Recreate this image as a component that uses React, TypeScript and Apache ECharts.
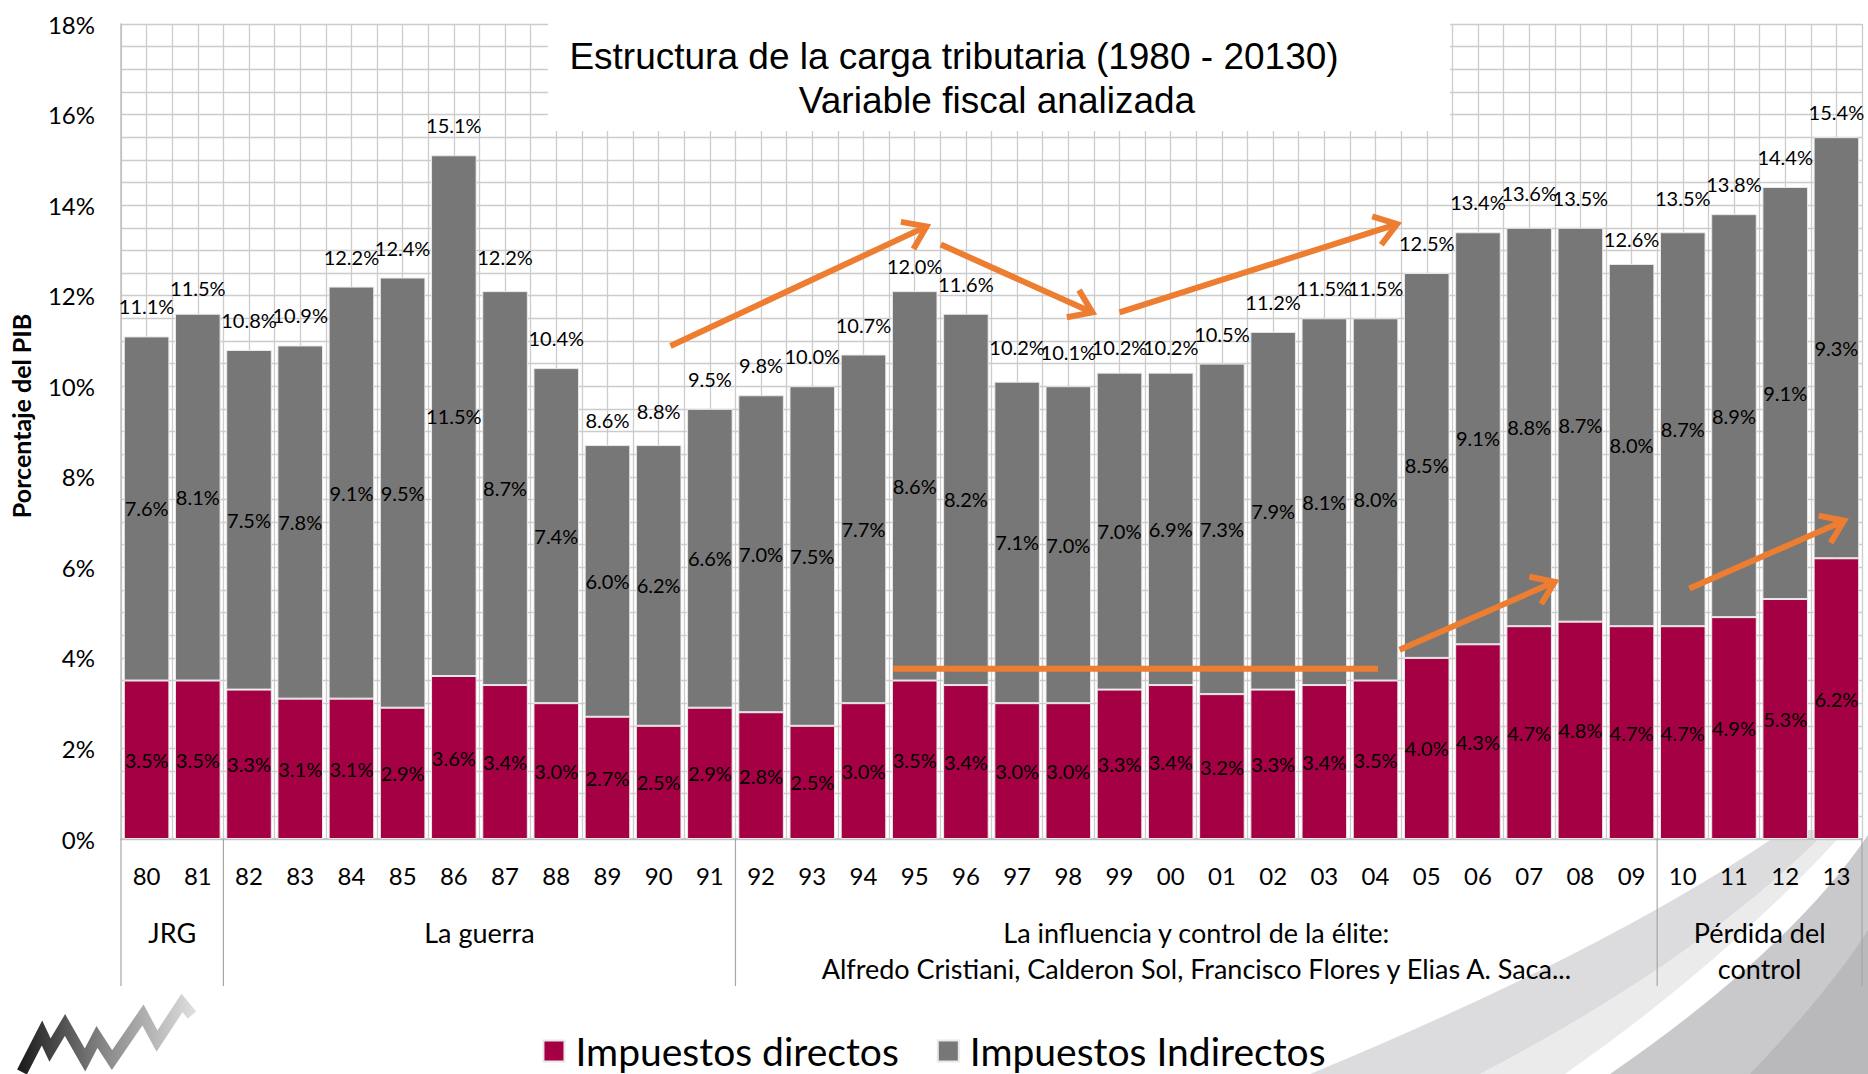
import React, { useEffect, useRef } from "react";
import * as echarts from "echarts";

const years = ["80","81","82","83","84","85","86","87","88","89","90","91","92","93","94","95","96","97","98","99","00","01","02","03","04","05","06","07","08","09","10","11","12","13"];
const directos = [3.5,3.5,3.3,3.1,3.1,2.9,3.6,3.4,3.0,2.7,2.5,2.9,2.8,2.5,3.0,3.5,3.4,3.0,3.0,3.3,3.4,3.2,3.3,3.4,3.5,4.0,4.3,4.7,4.8,4.7,4.7,4.9,5.3,6.2];
const indirectos = [7.6,8.1,7.5,7.8,9.1,9.5,11.5,8.7,7.4,6.0,6.2,6.6,7.0,7.5,7.7,8.6,8.2,7.1,7.0,7.0,6.9,7.3,7.9,8.1,8.0,8.5,9.1,8.8,8.7,8.0,8.7,8.9,9.1,9.3];
const totales = [11.1,11.5,10.8,10.9,12.2,12.4,15.1,12.2,10.4,8.6,8.8,9.5,9.8,10.0,10.7,12.0,11.6,10.2,10.1,10.2,10.2,10.5,11.2,11.5,11.5,12.5,13.4,13.6,13.5,12.6,13.5,13.8,14.4,15.4];

const groupLabels = [
  "JRG",
  "La guerra",
  "La influencia y control de la élite:\nAlfredo Cristiani, Calderon Sol, Francisco Flores y Elias A. Saca...",
  "Pérdida del\ncontrol",
];
const groupBounds = [0, 2, 12, 30, 34];

const titleLines = ["Estructura de la carga tributaria (1980 - 20130)", "Variable fiscal analizada"];
const seriesNames = ["Impuestos directos", "Impuestos Indirectos"];

// annotation arrows in data coordinates [category index, value %]
const annotations = [
  { from: [10.23, 10.89], to: [15.23, 13.53], head: true },
  { from: [15.51, 13.13], to: [18.47, 11.63], head: true },
  { from: [19.0, 11.63], to: [24.42, 13.58], head: true },
  { from: [14.58, 3.76], to: [24.05, 3.76], head: false },
  { from: [24.47, 4.18], to: [27.5, 5.68], head: true },
  { from: [30.13, 5.53], to: [33.15, 7.03], head: true },
];

const RED = "#A50044";
const GRAY = "#777777";
const ORANGE = "#ED7D31";
const FONT = "Lato";

echarts.graphic.registerShape("swooshA", echarts.graphic.extendPath("M1310 1074 Q1610 950 1785 830 L1828 830 Q1700 960 1480 1074 Z", {}));
echarts.graphic.registerShape("swooshB", echarts.graphic.extendPath("M1480 1074 Q1700 960 1828 830 L1846 830 Q1728 960 1565 1074 Z", {}));
echarts.graphic.registerShape("swooshC", echarts.graphic.extendPath("M1610 1074 Q1790 950 1868 835 L1868 1074 Z", {}));
echarts.graphic.registerShape("swooshD", echarts.graphic.extendPath("M1750 1074 Q1830 990 1868 930 L1868 1074 Z", {}));

const fmt = (v: number) => v.toFixed(1) + "%";

export default function App() {
  const ref = useRef<HTMLDivElement>(null);
  useEffect(() => {
    if (!ref.current) return;
    const chart = echarts.init(ref.current, null, { renderer: "svg" });
    const option: any = {
      animation: false,
      backgroundColor: "#ffffff",
      textStyle: { fontFamily: FONT },
      grid: { left: 121, right: 6, top: 24, bottom: 235, containLabel: false },
      legend: {
        data: seriesNames,
        left: "center",
        top: 1031,
        padding: 0,
        itemWidth: 21,
        itemHeight: 21,
        itemGap: 38,
        icon: "rect",
        textStyle: { fontSize: 39, color: "#000", fontFamily: FONT, lineHeight: 40, padding: [0, 0, 0, 6] },
      },
      xAxis: [
        {
          type: "category",
          data: years,
          axisLine: { show: true, lineStyle: { color: "#bfbfbf", width: 1.5 } },
          axisTick: { show: false },
          axisLabel: { fontSize: 24, color: "#000", margin: 24, fontFamily: FONT, interval: 0 },
          splitLine: { show: false },
        },
        {
          type: "value",
          min: 0,
          max: 34,
          interval: 0.5,
          show: true,
          position: "top",
          axisLine: { show: false },
          axisTick: { show: false },
          axisLabel: { show: false },
          splitLine: { show: true, lineStyle: { color: "#cccccc", width: 1.3 } },
        },
      ],
      yAxis: {
        type: "value",
        min: 0,
        max: 18,
        interval: 2,
        axisLine: { show: true, lineStyle: { color: "#bfbfbf", width: 1.5 } },
        axisTick: { show: false },
        axisLabel: { formatter: "{value}%", fontSize: 24, color: "#000", margin: 26, fontFamily: FONT },
        splitLine: { show: true, lineStyle: { color: "#cccccc", width: 1.3 } },
        minorTick: { show: false, splitNumber: 4 },
        minorSplitLine: { show: true, lineStyle: { color: "#cccccc", width: 1.3 } },
      },
      series: [
        {
          name: seriesNames[0],
          type: "bar",
          stack: "carga",
          data: directos,
          barCategoryGap: "11%",
          itemStyle: { color: RED, borderColor: "#e8e8e8", borderWidth: 1 },
          label: {
            show: true,
            position: "inside",
            formatter: (p: any) => fmt(p.value),
            fontSize: 20,
            color: "#000",
            fontFamily: FONT,
          },
        },
        {
          name: seriesNames[1],
          type: "bar",
          stack: "carga",
          data: indirectos,
          barCategoryGap: "11%",
          itemStyle: { color: GRAY, borderColor: "#e8e8e8", borderWidth: 1 },
          label: {
            show: true,
            position: "inside",
            formatter: (p: any) => fmt(p.value),
            fontSize: 20,
            color: "#000",
            fontFamily: FONT,
          },
        },
        {
          name: "Total",
          type: "bar",
          data: totales,
          barGap: "-100%",
          barCategoryGap: "11%",
          silent: true,
          itemStyle: { color: "rgba(0,0,0,0)" },
          label: {
            show: true,
            position: "top",
            distance: 20,
            formatter: (p: any) => fmt(p.value),
            fontSize: 20,
            color: "#000",
            fontFamily: FONT,
          },
        },
      ],
    };
    chart.setOption(option);

    const cx0 = chart.convertToPixel({ xAxisIndex: 0 }, 0) as number;
    const cx1 = chart.convertToPixel({ xAxisIndex: 0 }, 1) as number;
    const bw = cx1 - cx0;
    const px = (i: number) => cx0 + i * bw;
    const py = (v: number) => chart.convertToPixel({ yAxisIndex: 0 }, v) as number;
    const y0 = py(0);

    const g: any[] = [];
    // background swooshes
    g.push({ type: "swooshA", z: -10, style: { fill: "#dcdcde" } });
    g.push({ type: "swooshB", z: -10, style: { fill: "#ebebec" } });
    g.push({ type: "swooshC", z: -10, style: { fill: "#c9c9cc" } });
    g.push({ type: "swooshD", z: -9, style: { fill: "#b9b9bc" } });

    // title box
    g.push({ type: "rect", z: 1, shape: { x: 548, y: 0, width: 902, height: 131 }, style: { fill: "#ffffff" } });
    g.push({
      type: "text", z: 10, x: 954, y: 56,
      style: { text: titleLines[0], font: "37px 'Liberation Sans', Arial, sans-serif", fill: "#000", align: "center", verticalAlign: "middle" },
    });
    g.push({
      type: "text", z: 10, x: 997, y: 100,
      style: { text: titleLines[1], font: "37px 'Liberation Sans', Arial, sans-serif", fill: "#000", align: "center", verticalAlign: "middle" },
    });

    // y axis name
    g.push({
      type: "text", z: 10, x: 21, y: 416, rotation: Math.PI / 2,
      style: { text: "Porcentaje del PIB", font: "bold 25px Lato", fill: "#000", align: "center", verticalAlign: "middle" },
    });

    // group separators and labels
    groupBounds.forEach((b) => {
      const x = px(b - 0.5);
      g.push({ type: "line", z: 5, shape: { x1: x, y1: y0, x2: x, y2: 986 }, style: { stroke: "#a6a6a6", lineWidth: 1.2 } });
    });
    groupLabels.forEach((lab, i) => {
      const xa = px(groupBounds[i] - 0.5);
      const xb = px(groupBounds[i + 1] - 0.5);
      g.push({
        type: "text", z: 10, x: (xa + xb) / 2, y: 915,
        style: { text: lab, font: "27px Lato", fill: "#000", align: "center", verticalAlign: "top", lineHeight: 35.5 },
      });
    });

    // annotation arrows
    annotations.forEach((a) => {
      const x1 = px(a.from[0]), y1 = py(a.from[1]);
      const x2 = px(a.to[0]), y2 = py(a.to[1]);
      g.push({ type: "line", z: 20, shape: { x1, y1, x2, y2 }, style: { stroke: ORANGE, lineWidth: 6 } });
      if (a.head) {
        const th = Math.atan2(y2 - y1, x2 - x1);
        const L = 26, phi = (35 * Math.PI) / 180;
        g.push({
          type: "polyline", z: 20,
          shape: { points: [[x2 - L * Math.cos(th - phi), y2 - L * Math.sin(th - phi)], [x2, y2], [x2 - L * Math.cos(th + phi), y2 - L * Math.sin(th + phi)]] },
          style: { stroke: ORANGE, lineWidth: 6, fill: "none", lineJoin: "miter" },
        });
      }
    });

    // logo
    g.push({
      type: "polyline", z: 10,
      shape: { points: [[22, 1072], [42, 1033], [50, 1050], [65, 1025], [85, 1060], [97, 1037], [112, 1060], [143, 1015], [157, 1041], [182, 1003], [192, 1015]] },
      style: {
        lineWidth: 11, fill: "none", lineJoin: "miter",
        stroke: { type: "linear", x: 0, y: 0, x2: 1, y2: 0, colorStops: [{ offset: 0, color: "#1e1e1e" }, { offset: 0.5, color: "#8a8a8a" }, { offset: 1, color: "#dcdcdc" }] },
      },
    });

    chart.setOption({ graphic: g });
    return () => chart.dispose();
  }, []);
  return <div ref={ref} style={{ position: "absolute", left: 0, top: 0, width: 1868, height: 1074 }} />;
}
